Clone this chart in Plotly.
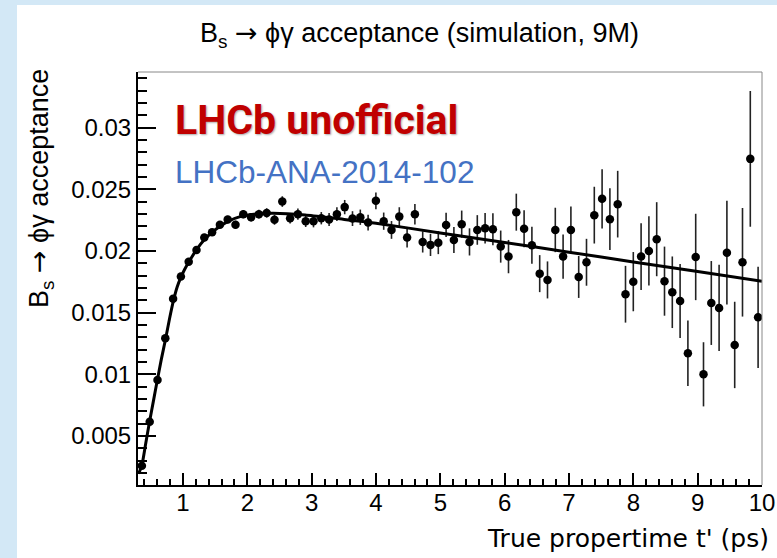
import plotly.graph_objects as go

# ---- data ----
bin_lo = 0.3
bin_hi = 10.0
n_bins = 80
bin_width = (bin_hi - bin_lo) / n_bins
t_centers = [round(bin_lo + bin_width * (i + 0.5), 5) for i in range(n_bins)]

acceptance = [
    0.00259, 0.00616, 0.00954, 0.01292, 0.01612, 0.01792, 0.01913, 0.02008, 0.02108, 0.02152,
    0.02213, 0.02254, 0.02213, 0.02298, 0.02273, 0.02298, 0.02308, 0.02252, 0.02400, 0.02265,
    0.02298, 0.02241, 0.02241, 0.02265, 0.02254, 0.02298, 0.02355, 0.02262, 0.02273, 0.02230,
    0.02406, 0.02241, 0.02170, 0.02278, 0.02108, 0.02298, 0.02073, 0.02049, 0.02067, 0.02211,
    0.02089, 0.02217, 0.02073, 0.02170, 0.02184, 0.02176, 0.02035, 0.01954, 0.02314, 0.02179,
    0.02046, 0.01816, 0.01765, 0.02170, 0.01954, 0.02170, 0.01789, 0.01908, 0.02290, 0.02422,
    0.02257, 0.02379, 0.01649, 0.01751, 0.01954, 0.02000, 0.02095, 0.01755, 0.01665, 0.01595,
    0.01171, 0.01951, 0.01000, 0.01578, 0.01538, 0.01986, 0.01238, 0.01908, 0.02746, 0.01462,
]

acceptance_err = [
    0.00012, 0.00015, 0.00018, 0.00020, 0.00020, 0.00022, 0.00024, 0.00025, 0.00026, 0.00028,
    0.00030, 0.00030, 0.00032, 0.00033, 0.00035, 0.00036, 0.00038, 0.00040, 0.00043, 0.00043,
    0.00045, 0.00047, 0.00050, 0.00050, 0.00053, 0.00055, 0.00058, 0.00060, 0.00062, 0.00064,
    0.00068, 0.00070, 0.00072, 0.00076, 0.00080, 0.00083, 0.00086, 0.00090, 0.00093, 0.00098,
    0.00105, 0.00110, 0.00110, 0.00120, 0.00124, 0.00130, 0.00130, 0.00135, 0.00150, 0.00150,
    0.00150, 0.00150, 0.00150, 0.00180, 0.00180, 0.00190, 0.00170, 0.00190, 0.00230, 0.00240,
    0.00250, 0.00270, 0.00230, 0.00240, 0.00270, 0.00280, 0.00300, 0.00280, 0.00290, 0.00300,
    0.00265, 0.00350, 0.00260, 0.00340, 0.00350, 0.00420, 0.00350, 0.00440, 0.00550, 0.00410,
]

# fitted acceptance curve
fit_t = [0.31, 0.36, 0.42, 0.48, 0.54, 0.60, 0.66, 0.73, 0.79, 0.85, 0.91, 0.97, 1.03,
         1.09, 1.21, 1.33, 1.45, 1.57, 1.70, 1.90, 2.10, 2.40, 2.90, 3.40, 4.00, 5.00,
         6.00, 7.00, 8.00, 9.00, 10.00]
fit_acc = [0.00195, 0.00262, 0.00440, 0.00618, 0.00785, 0.00952, 0.01115, 0.01290, 0.01450,
           0.01595, 0.01710, 0.01790, 0.01855, 0.01910, 0.02010, 0.02090, 0.02150, 0.02198,
           0.02240, 0.02280, 0.02298, 0.02306, 0.02292, 0.02262, 0.02225, 0.02145,
           0.02068, 0.01990, 0.01911, 0.01833, 0.01755]

x_tickvals = [1, 2, 3, 4, 5, 6, 7, 8, 9, 10]
x_ticktext = ["1", "2", "3", "4", "5", "6", "7", "8", "9", "10"]
y_tickvals = [0.005, 0.01, 0.015, 0.02, 0.025, 0.03]
y_ticktext = ["0.005", "0.01", "0.015", "0.02", "0.025", "0.03"]

ARROW = "<span style='font-family:DejaVu Sans'>\u2192</span>"
title_text = "B<sub>s</sub> " + ARROW + " \u03d5\u03b3 acceptance (simulation, 9M)"
ytitle_text = "B<sub>s</sub> " + ARROW + " \u03d5\u03b3 acceptance"
xtitle_text = "True propertime t' (ps)"
label_unofficial = "LHCb unofficial"
label_ana = "LHCb-ANA-2014-102"

# ---- figure ----
W, H = 777, 558
ML, MR, MT, MB = 138, 15, 72, 73
PW = W - ML - MR
PH = H - MT - MB


def px_x(p):
    return (p - ML) / PW


def px_y(p):
    return 1 - (p - MT) / PH


fig = go.Figure()

fig.add_trace(go.Scatter(
    x=t_centers, y=acceptance,
    mode="markers",
    marker=dict(color="black", size=8.5, symbol="circle"),
    error_y=dict(type="data", array=acceptance_err, visible=True,
                 color="#222222", thickness=1.6, width=0),
    showlegend=False, hoverinfo="x+y",
))

fig.add_trace(go.Scatter(
    x=fit_t, y=fit_acc,
    mode="lines",
    line=dict(color="black", width=3, shape="spline", smoothing=0.6),
    showlegend=False, hoverinfo="skip",
))

tickfont = dict(family="Liberation Sans, Arial, sans-serif", size=24, color="black")

fig.update_layout(
    template="none",
    width=W, height=H,
    margin=dict(l=ML, r=MR, t=MT, b=MB, pad=0),
    paper_bgcolor="white",
    plot_bgcolor="white",
    showlegend=False,
    xaxis=dict(
        range=[bin_lo, bin_hi],
        tickmode="array", tickvals=x_tickvals, ticktext=x_ticktext,
        ticks="inside", ticklen=12, tickwidth=2, tickcolor="black",
        showline=True, linecolor="black", linewidth=2,
        showgrid=False, zeroline=False, automargin=False,
        tickfont=tickfont, ticklabelstandoff=-5,
        minor=dict(tickmode="linear", tick0=0, dtick=0.2, ticks="inside",
                   ticklen=6, tickwidth=1.5, tickcolor="black", showgrid=False),
    ),
    yaxis=dict(
        range=[0.00103, 0.0345],
        tickmode="array", tickvals=y_tickvals, ticktext=y_ticktext,
        ticks="inside", ticklen=18, tickwidth=2, tickcolor="black",
        showline=True, linecolor="black", linewidth=2,
        showgrid=False, zeroline=False, automargin=False,
        tickfont=tickfont,
        minor=dict(tickmode="linear", tick0=0, dtick=0.001, ticks="inside",
                   ticklen=9, tickwidth=1.5, tickcolor="black", showgrid=False),
    ),
)

# light-blue slide border (left and top)
blue = "#D3E8F6"
fig.add_shape(type="rect", xref="paper", yref="paper", layer="below",
              x0=px_x(0), x1=px_x(17), y0=px_y(H), y1=px_y(0),
              fillcolor=blue, line=dict(width=0))
fig.add_shape(type="rect", xref="paper", yref="paper", layer="below",
              x0=px_x(0), x1=px_x(W), y0=px_y(5), y1=px_y(0),
              fillcolor=blue, line=dict(width=0))

# thin grey frame on top and right
fig.add_shape(type="line", xref="paper", yref="paper", x0=0, x1=1, y0=1, y1=1,
              line=dict(color="#888888", width=1))
fig.add_shape(type="line", xref="paper", yref="paper", x0=1, x1=1, y0=0, y1=1,
              line=dict(color="#888888", width=1))

# title
fig.add_annotation(text=title_text, xref="paper", yref="paper",
                   x=px_x(419.5), y=px_y(35), xanchor="center", yanchor="middle",
                   showarrow=False,
                   font=dict(family="Liberation Sans, Arial, sans-serif", size=27, color="black"))
# y title
fig.add_annotation(text=ytitle_text, xref="paper", yref="paper",
                   x=px_x(40), y=px_y(189), xanchor="center", yanchor="middle",
                   textangle=-90, showarrow=False,
                   font=dict(family="Liberation Sans, Arial, sans-serif", size=27, color="black"))
# x title
fig.add_annotation(text=xtitle_text, xref="paper", yref="paper",
                   x=px_x(771), y=px_y(538), xanchor="right", yanchor="middle",
                   showarrow=False,
                   font=dict(family="DejaVu Sans, sans-serif", size=25, color="black"))
# LHCb labels
fig.add_annotation(text="<b>" + label_unofficial + "</b>", xref="paper", yref="paper",
                   x=px_x(173), y=px_y(120), xanchor="left", yanchor="middle",
                   showarrow=False,
                   font=dict(family="Roboto, sans-serif", size=41, color="#C00000",
                             shadow="1px 1px 2px #aaaaaa"))
fig.add_annotation(text=label_ana, xref="paper", yref="paper",
                   x=px_x(173), y=px_y(172), xanchor="left", yanchor="middle",
                   showarrow=False,
                   font=dict(family="Liberation Sans, Arial, sans-serif", size=31.5, color="#4472C4"))

fig.write_html("out.html")
